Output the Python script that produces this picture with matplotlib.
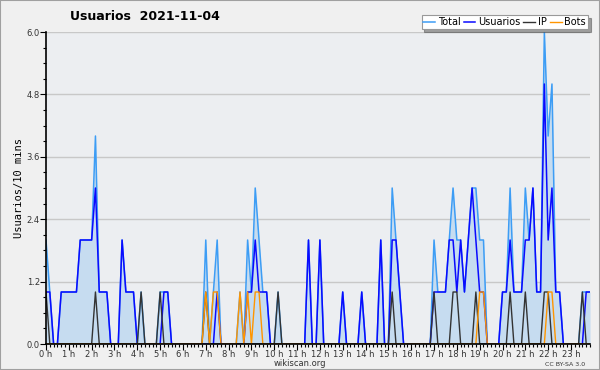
import numpy as np
import matplotlib
matplotlib.use("Agg")
import matplotlib.pyplot as plt
from matplotlib.patches import Rectangle
from matplotlib.ticker import MultipleLocator, FormatStrFormatter

# valores cada 10 minutos, una fila por hora
usuarios = [1, 1, 0, 0, 1, 1,
            1, 1, 1, 2, 2, 2,
            2, 3, 1, 1, 1, 0,
            0, 0, 2, 1, 1, 1,
            0, 0, 0, 0, 0, 0,
            0, 1, 1, 0, 0, 0,
            0, 0, 0, 0, 0, 0,
            0, 0, 0, 1, 0, 0,
            0, 0, 0, 0, 0, 1,
            1, 2, 1, 1, 1, 0,
            0, 0, 0, 0, 0, 0,
            0, 0, 0, 2, 0, 0,
            2, 0, 0, 0, 0, 0,
            1, 0, 0, 0, 0, 1,
            0, 0, 0, 0, 2, 0,
            0, 2, 2, 1, 0, 0,
            0, 0, 0, 0, 0, 0,
            1, 1, 1, 1, 2, 2,
            1, 2, 1, 2, 3, 2,
            1, 1, 0, 0, 0, 0,
            1, 1, 2, 1, 1, 1,
            2, 2, 3, 1, 1, 5,
            2, 3, 1, 1, 0, 0,
            0, 0, 0, 0, 1, 1]

ip = [1, 0, 0, 0, 0, 0,
      0, 0, 0, 0, 0, 0,
      0, 1, 0, 0, 0, 0,
      0, 0, 0, 0, 0, 0,
      0, 1, 0, 0, 0, 0,
      1, 0, 0, 0, 0, 0,
      0, 0, 0, 0, 0, 0,
      1, 0, 0, 0, 0, 0,
      0, 0, 0, 0, 0, 0,
      0, 0, 0, 0, 0, 0,
      0, 1, 0, 0, 0, 0,
      0, 0, 0, 0, 0, 0,
      0, 0, 0, 0, 0, 0,
      0, 0, 0, 0, 0, 0,
      0, 0, 0, 0, 0, 0,
      0, 1, 0, 0, 0, 0,
      0, 0, 0, 0, 0, 0,
      1, 0, 0, 0, 0, 1,
      1, 0, 0, 0, 0, 1,
      0, 0, 0, 0, 0, 0,
      0, 0, 1, 0, 0, 0,
      1, 0, 0, 0, 0, 1,
      1, 0, 0, 0, 0, 0,
      0, 0, 0, 1, 0, 0]

bots = [0, 0, 0, 0, 0, 0,
        0, 0, 0, 0, 0, 0,
        0, 0, 0, 0, 0, 0,
        0, 0, 0, 0, 0, 0,
        0, 0, 0, 0, 0, 0,
        0, 0, 0, 0, 0, 0,
        0, 0, 0, 0, 0, 0,
        1, 0, 1, 1, 0, 0,
        0, 0, 0, 1, 0, 1,
        0, 1, 1, 0, 0, 0,
        0, 0, 0, 0, 0, 0,
        0, 0, 0, 0, 0, 0,
        0, 0, 0, 0, 0, 0,
        0, 0, 0, 0, 0, 0,
        0, 0, 0, 0, 0, 0,
        0, 0, 0, 0, 0, 0,
        0, 0, 0, 0, 0, 0,
        0, 0, 0, 0, 0, 0,
        0, 0, 0, 0, 0, 0,
        1, 1, 0, 0, 0, 0,
        0, 0, 0, 0, 0, 0,
        0, 0, 0, 0, 0, 0,
        1, 1, 0, 0, 0, 0,
        0, 0, 0, 0, 0, 0]

total = [2, 1, 0, 0, 1, 1,
         1, 1, 1, 2, 2, 2,
         2, 4, 1, 1, 1, 0,
         0, 0, 2, 1, 1, 1,
         0, 1, 0, 0, 0, 0,
         1, 1, 1, 0, 0, 0,
         0, 0, 0, 0, 0, 0,
         2, 0, 1, 2, 0, 0,
         0, 0, 0, 1, 0, 2,
         1, 3, 2, 1, 1, 0,
         0, 1, 0, 0, 0, 0,
         0, 0, 0, 2, 0, 0,
         2, 0, 0, 0, 0, 0,
         1, 0, 0, 0, 0, 1,
         0, 0, 0, 0, 2, 0,
         0, 3, 2, 1, 0, 0,
         0, 0, 0, 0, 0, 0,
         2, 1, 1, 1, 2, 3,
         2, 2, 1, 2, 3, 3,
         2, 2, 0, 0, 0, 0,
         1, 1, 3, 1, 1, 1,
         3, 2, 3, 1, 1, 6,
         4, 5, 1, 1, 0, 0,
         0, 0, 0, 1, 1, 1]

horas = ["%d h" % h for h in range(24)]

x = np.arange(len(total))

fig = plt.figure(figsize=(6, 3.7), dpi=100, facecolor="#f0f0f0")
ax = fig.add_axes([46/600, 26/370, 544/600, 312/370])
ax.set_facecolor("#eceef1")

ax.fill_between(x, total, 0, color="#c6dcf0", lw=0)
ax.plot(x, total, color="#3d9df5", lw=1.1, label="Total")
ax.plot(x, usuarios, color="#0a0aff", lw=1.1, label="Usuarios")
ax.plot(x, ip, color="#333333", lw=1.0, label="IP")
ax.plot(x, bots, color="#ff9500", lw=1.0, label="Bots")

ax.set_xlim(0, len(total) - 1)
ax.set_ylim(0, 6)

ax.yaxis.set_major_locator(MultipleLocator(1.2))
ax.yaxis.set_minor_locator(MultipleLocator(0.3))
ax.yaxis.set_major_formatter(FormatStrFormatter("%.1f"))
ax.set_xticks(np.arange(0, 144, 6))
ax.set_xticklabels(horas)
ax.set_xticks(np.arange(0, 144, 1), minor=True)
ax.tick_params(axis="both", labelsize=6, labelcolor="#333333", width=0.8, length=4, pad=0.5)
ax.tick_params(axis="both", which="minor", width=0.8, length=2.5)
ax.grid(axis="y", color="#c8c8c8", lw=1)
ax.set_axisbelow(True)
for s in ["top", "right"]:
    ax.spines[s].set_visible(False)
for s in ["left", "bottom"]:
    ax.spines[s].set_linewidth(1.2)

ax.set_ylabel("Usuarios/10 mins", family="DejaVu Sans Mono", fontsize=7.5, labelpad=2)

fig.text(145/600, 1 - 17/370, "Usuarios  2021-11-04", ha="center", va="center",
         fontsize=9, fontweight="bold")
fig.text(300/600, 1 - 364/370, "wikiscan.org", ha="center", va="center", fontsize=6, color="#333333")
fig.text(565/600, 1 - 364/370, "CC BY-SA 3.0", ha="center", va="center", fontsize=4.5, color="#333333")

leg = fig.legend(loc="upper right", bbox_to_anchor=(588/600, 1 - 15/370), ncol=4,
                 fontsize=7, frameon=True, fancybox=False, shadow=True, framealpha=1,
                 edgecolor="#999999", handlelength=1.2, handletextpad=0.3,
                 columnspacing=0.3, borderpad=0.2, borderaxespad=0)
leg.get_frame().set_linewidth(0.8)

fig.patches.append(Rectangle((0, 0), 1, 1, transform=fig.transFigure, fill=False,
                             edgecolor="#a0a0a0", lw=1.5))

fig.savefig("out.png", dpi=100, facecolor=fig.get_facecolor())
